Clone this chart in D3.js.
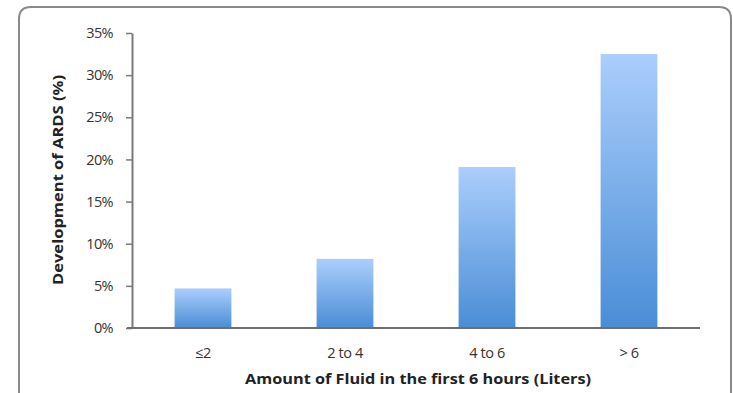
<!DOCTYPE html>
<html><head><meta charset="utf-8">
<script src="https://cdn.jsdelivr.net/npm/d3@7/dist/d3.min.js"></script>
<style>body{margin:0;background:#fff}svg{display:block}</style>
</head><body><svg id="c" width="733" height="393"></svg>
<script>
const categories = ["≤2", "2 to 4", "4 to 6", "> 6"];
const values = [4.7, 8.2, 19.1, 32.5];
const yTicks = [0, 5, 10, 15, 20, 25, 30, 35];
const yTitle = "Development of ARDS (%)";
const xTitle = "Amount of Fluid in the first 6 hours (Liters)";

const svg = d3.select("#c");
const m = {l:132, r:700, t:33, b:328};
const font = "'Open Sans', 'Liberation Sans', sans-serif";

// frame
svg.append("path")
  .attr("d", "M19,400 L19,19 Q19,7 31,7 L719,7 Q731,7 731,19 L731,400")
  .attr("fill","none").attr("stroke","#8a8a8a").attr("stroke-width",2);

const defs = svg.append("defs");
const g = defs.append("linearGradient").attr("id","bg").attr("x1",0).attr("y1",0).attr("x2",0).attr("y2",1);
g.append("stop").attr("offset","0%").attr("stop-color","#abcefc");
g.append("stop").attr("offset","100%").attr("stop-color","#4a8dd6");

const x = d3.scaleBand().domain(categories).range([m.l, m.r]).paddingInner(0.6).paddingOuter(0.3);
const y = d3.scaleLinear().domain([0,35]).range([m.b, m.t]);

svg.append("g").selectAll("rect").data(values).join("rect")
  .attr("x",(d,i)=>x(categories[i]))
  .attr("y",d=>y(d))
  .attr("width",x.bandwidth())
  .attr("height",d=>y(0)-y(d))
  .attr("fill","url(#bg)");

// y axis
const ya = svg.append("g").attr("transform",`translate(${m.l},0)`)
  .call(d3.axisLeft(y).tickValues(yTicks).tickFormat(d=>d+"%").tickSize(6).tickSizeOuter(0));
ya.select(".domain").attr("stroke","#7a7a7a").attr("stroke-width",2);
ya.selectAll(".tick line").attr("stroke","#7a7a7a").attr("stroke-width",1.5);
ya.selectAll(".tick text").attr("x",-19).attr("font-family",font).attr("font-size",14.5)
  .attr("letter-spacing","-0.6").attr("fill","#333");

// x axis
const xa = svg.append("g").attr("transform",`translate(0,${m.b})`)
  .call(d3.axisBottom(x).tickSize(0).tickSizeOuter(0));
xa.select(".domain").attr("d",`M${m.l-5},0H${m.r}`).attr("stroke","#6f6f6f").attr("stroke-width",2.2);
xa.selectAll(".tick text").attr("dy","0").attr("y",30).attr("font-family",font).attr("font-size",14.5)
  .attr("letter-spacing","-0.4").attr("fill","#333");

svg.append("text").attr("transform",`translate(63,180) rotate(-90)`)
  .attr("text-anchor","middle").attr("font-family",font).attr("font-weight","bold")
  .attr("font-size",14.5).attr("textLength",210).attr("lengthAdjust","spacingAndGlyphs")
  .attr("fill","#222").text(yTitle);
svg.append("text").attr("x",418).attr("y",384)
  .attr("text-anchor","middle").attr("font-family",font).attr("font-weight","bold")
  .attr("font-size",15).attr("textLength",346).attr("lengthAdjust","spacingAndGlyphs")
  .attr("fill","#222").text(xTitle);
</script></body></html>
